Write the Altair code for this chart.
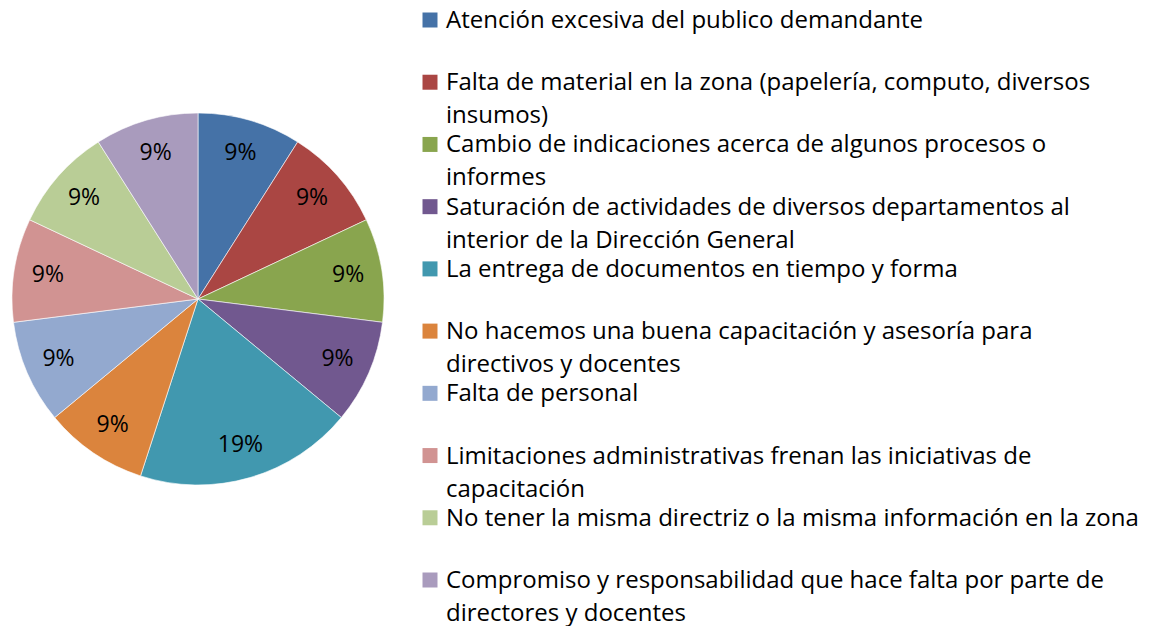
import altair as alt
import pandas as pd

categories = [
    "Atención excesiva del publico demandante",
    "Falta de material en la zona (papelería, computo, diversos\ninsumos)",
    "Cambio de indicaciones acerca de algunos procesos o\ninformes",
    "Saturación de actividades de diversos departamentos al\ninterior de la Dirección General",
    "La entrega de documentos en tiempo y forma",
    "No hacemos una buena capacitación y asesoría para\ndirectivos y docentes",
    "Falta de personal",
    "Limitaciones administrativas frenan las iniciativas de\ncapacitación",
    "No tener la misma directriz o la misma información en la zona",
    "Compromiso y responsabilidad que hace falta por parte de\ndirectores y docentes",
]
values = [9, 9, 9, 9, 19, 9, 9, 9, 9, 9]
colors = ["#4572A7", "#AA4643", "#89A54E", "#71588F", "#4198AF",
          "#DB843D", "#93A9CF", "#D19392", "#B9CD96", "#A99BBD"]

FONT = "Open Sans"

df = pd.DataFrame({
    "idx": list(range(len(categories))),
    "cat": categories,
    "value": values,
    "label": [f"{v}%" for v in values],
})

color_enc = alt.Color("cat:N", scale=alt.Scale(domain=categories, range=colors), legend=None)

base = alt.Chart(df).encode(
    theta=alt.Theta("value:Q", stack=True),
    order=alt.Order("idx:Q"),
)
arcs = base.mark_arc(outerRadius=186, stroke="white", strokeWidth=0.6).encode(color=color_enc)
labels = base.mark_text(radius=152, fontSize=23, font=FONT, color="black").encode(text="label:N")
pie = (arcs + labels).properties(width=380, height=582)

yenc = alt.Y("idx:Q", scale=alt.Scale(domain=[0, 9], range=[12, 572]), axis=None)
leg = alt.Chart(df)
squares = leg.mark_square(size=225, opacity=1, filled=True).encode(
    x=alt.value(14), y=yenc, color=color_enc
)
texts = leg.mark_text(align="left", baseline="alphabetic", dy=8, lineBreak="\n",
                      lineHeight=33, fontSize=24, font=FONT, color="black").encode(
    x=alt.value(30), y=yenc, text="cat:N"
)
legend = (squares + texts).properties(width=735, height=582)

chart = alt.hconcat(pie, legend, spacing=28).configure_view(stroke=None).properties(padding=0)

chart.save("out.html", embed_options={"renderer": "svg", "actions": False})
